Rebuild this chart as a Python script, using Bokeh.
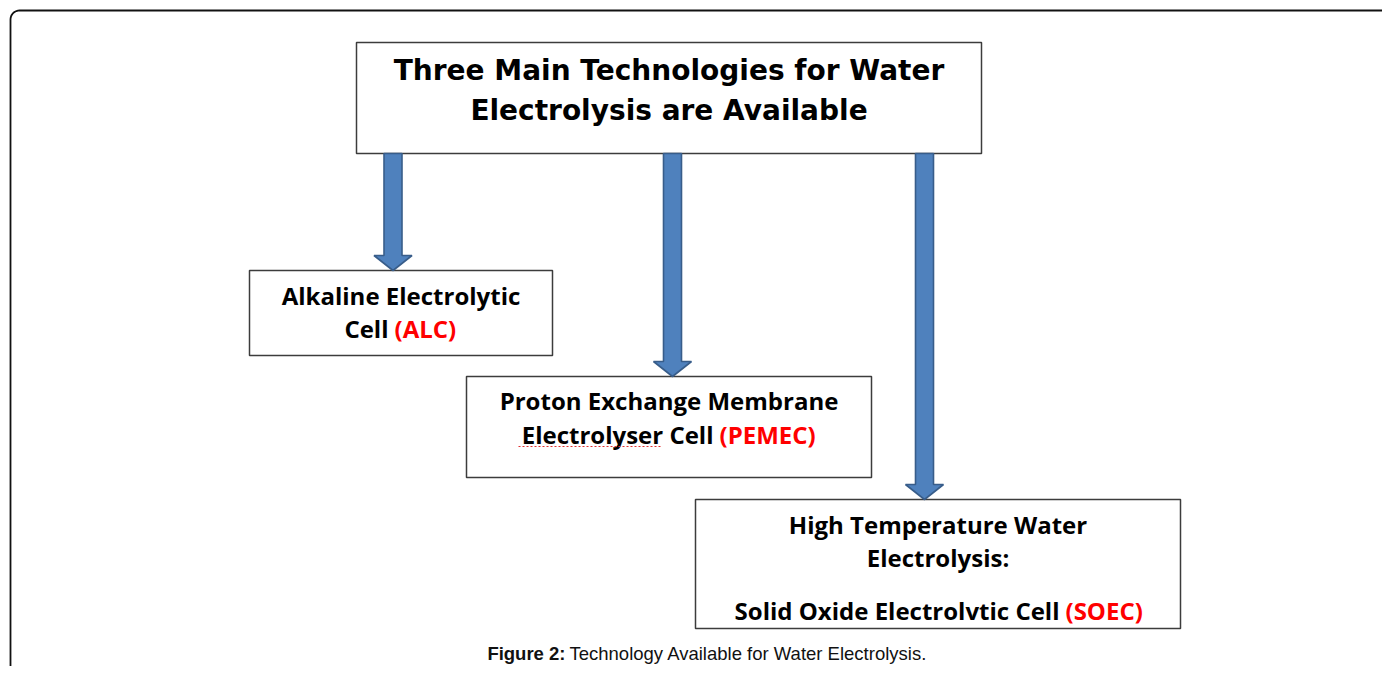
import numpy as np
from bokeh.plotting import figure
from bokeh.models import Range1d
from bokeh.core.properties import value
from bokeh.embed import file_html
from bokeh.resources import INLINE

# ---- content ----
title_lines = ["Three Main Technologies for Water", "Electrolysis are Available"]
tech_lines = [
    ["Alkaline Electrolytic"],
    ["Proton Exchange Membrane"],
    ["High Temperature Water", "Electrolysis:", ""],
]
tech_last_black = ["Cell", "Electrolyser Cell", "Solid Oxide Electrolvtic Cell"]
tech_last_red = ["(ALC)", "(PEMEC)", "(SOEC)"]
caption_bold = "Figure 2:"
caption_text = "Technology Available for Water Electrolysis."

# ---- layout (page pixels) ----
W, H = 1382, 666
top_box = (356, 42, 981, 153)
boxes = [(249, 270, 552, 355), (466, 376, 871, 477), (695, 499, 1180, 628)]
title_mid = [70, 110]
line_mid = [[295, 328], [400, 434], [524, 557, 584, 610]]
split_x = [391, 716, 1062]
arrow_x = [392.5, 672, 924]
caption_split = 566
caption_mid = 653

p = figure(width=W, height=H, output_backend="svg", toolbar_location=None,
           x_range=Range1d(0, W), y_range=Range1d(H, 0), min_border=0)
p.axis.visible = False
p.grid.visible = False
p.outline_line_color = None
p.background_fill_color = "white"
p.border_fill_color = "white"

# outer frame (left and top edges with a rounded corner; the rest lies off-page)
fl, ft, rad = 10, 10, 9
t = np.linspace(np.pi, 1.5 * np.pi, 10)
fx = [fl] + list(fl + rad + rad * np.cos(t)) + [W + 50]
fy = [H + 50] + list(ft + rad + rad * np.sin(t)) + [ft]
p.line(fx, fy, line_color="#111111", line_width=1.8)

# boxes
def draw_box(b):
    l, tp, r, bt = b
    p.quad(left=[l], right=[r], top=[tp], bottom=[bt],
           fill_color="white", line_color="#3c3c3c", line_width=1.5)

draw_box(top_box)
for b in boxes:
    draw_box(b)

# arrows
shaft_hw, head_hw, head_len = 9, 19, 15
xs, ys = [], []
for ax, b in zip(arrow_x, boxes):
    t0 = top_box[3]
    tip = b[1]
    hs = tip - head_len
    xs.append([ax - shaft_hw, ax + shaft_hw, ax + shaft_hw, ax + head_hw,
               ax, ax - head_hw, ax - shaft_hw])
    ys.append([t0, t0, hs, hs, tip, hs, hs])
p.patches(xs, ys, fill_color="#4F81BD", line_color="#385D8A", line_width=1.6)

# title
cx = (top_box[0] + top_box[2]) / 2
p.text(x=[cx] * 2, y=title_mid, text=title_lines,
       text_font=value("DejaVu Sans"), text_font_style="bold", text_font_size="28px",
       text_align="center", text_baseline="middle", text_color="black")

# box texts
body_font = value("Open Sans")
fs = "24px"
for i, b in enumerate(boxes):
    bx = (b[0] + b[2]) / 2
    lines = tech_lines[i]
    ym = line_mid[i]
    p.text(x=[bx] * len(lines), y=ym[:len(lines)], text=lines,
           text_font=body_font, text_font_style="bold", text_font_size=fs,
           text_align="center", text_baseline="middle", text_color="black")
    p.text(x=[split_x[i] - 3], y=[ym[-1]], text=[tech_last_black[i]],
           text_font=body_font, text_font_style="bold", text_font_size=fs,
           text_align="right", text_baseline="middle", text_color="black")
    p.text(x=[split_x[i] + 3], y=[ym[-1]], text=[tech_last_red[i]],
           text_font=body_font, text_font_style="bold", text_font_size=fs,
           text_align="left", text_baseline="middle", text_color="#FF0000")

# spell-check squiggle under "Electrolyser"
p.line(x=[518, 661], y=[446, 446], line_color="#E03030", line_width=1.2,
       line_dash="2 2")

# caption
p.text(x=[caption_split - 1], y=[caption_mid], text=[caption_bold],
       text_font=value("Liberation Sans"), text_font_style="bold", text_font_size="18.5px",
       text_align="right", text_baseline="middle", text_color="#111111")
p.text(x=[caption_split + 3], y=[caption_mid], text=[caption_text],
       text_font=value("Liberation Sans"), text_font_size="18.5px",
       text_align="left", text_baseline="middle", text_color="#111111")

open("out.html", "w").write(file_html(p, INLINE))
